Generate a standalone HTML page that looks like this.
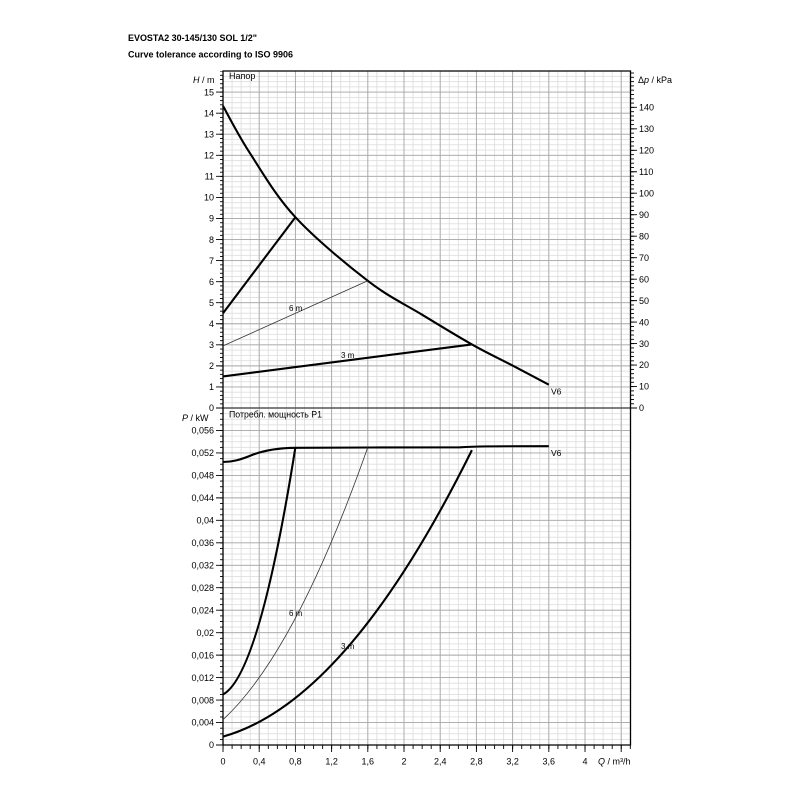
<!DOCTYPE html>
<html><head><meta charset="utf-8"><style>
html,body{margin:0;padding:0;background:#fff;}
svg{display:block;}
text{font-family:"Liberation Sans",Arial,sans-serif;fill:#000;}
</style></head><body>
<svg width="800" height="800" viewBox="0 0 800 800" xmlns="http://www.w3.org/2000/svg">
<defs>
<pattern id="gv" patternUnits="userSpaceOnUse" x="222.6" y="0" width="9.05" height="800"><rect x="0" y="0" width="0.8" height="800" fill="#dcdcdc"/></pattern>
<pattern id="ghu" patternUnits="userSpaceOnUse" x="0" y="407.6" width="800" height="5.265"><rect x="0" y="0" width="800" height="0.8" fill="#dcdcdc"/></pattern>
<pattern id="ghl" patternUnits="userSpaceOnUse" x="0" y="744.6" width="800" height="5.6167"><rect x="0" y="0" width="800" height="0.8" fill="#dcdcdc"/></pattern>
<pattern id="tlu" patternUnits="userSpaceOnUse" x="0" y="407.6" width="800" height="4.212"><rect x="0" y="0" width="800" height="0.9" fill="#000"/></pattern>
<pattern id="tll" patternUnits="userSpaceOnUse" x="0" y="744.6" width="800" height="5.6167"><rect x="0" y="0" width="800" height="0.9" fill="#000"/></pattern>
<pattern id="tr" patternUnits="userSpaceOnUse" x="0" y="407.6" width="800" height="4.2954"><rect x="0" y="0" width="800" height="0.9" fill="#000"/></pattern>
<pattern id="tb" patternUnits="userSpaceOnUse" x="222.6" y="0" width="9.05" height="800"><rect x="0" y="0" width="0.9" height="800" fill="#000"/></pattern>
</defs>
<rect width="800" height="800" fill="#fff"/>

<!-- titles -->
<text x="128" y="41" font-size="9" font-weight="bold" textLength="129" lengthAdjust="spacingAndGlyphs">EVOSTA2 30-145/130 SOL 1/2"</text>
<text x="128" y="57.5" font-size="9" font-weight="bold" textLength="165" lengthAdjust="spacingAndGlyphs">Curve tolerance according to ISO 9906</text>

<!-- minor grids -->
<rect x="223" y="71" width="407.5" height="674" fill="url(#gv)"/>
<rect x="223" y="71" width="407.5" height="337" fill="url(#ghu)"/>
<rect x="223" y="408" width="407.5" height="337" fill="url(#ghl)"/>

<!-- major grids -->
<path fill="none" stroke="#a8a8a8" stroke-width="0.9" d="
M259.2 71V745M295.4 71V745M331.6 71V745M367.8 71V745M404 71V745M440.2 71V745M476.4 71V745M512.6 71V745M548.8 71V745M585 71V745M621.2 71V745
M223 386.94H630.5M223 365.88H630.5M223 344.82H630.5M223 323.76H630.5M223 302.7H630.5M223 281.64H630.5M223 260.58H630.5M223 239.52H630.5M223 218.46H630.5M223 197.4H630.5M223 176.34H630.5M223 155.28H630.5M223 134.22H630.5M223 113.16H630.5M223 92.1H630.5
M223 722.53H630.5M223 700.07H630.5M223 677.6H630.5M223 655.13H630.5M223 632.67H630.5M223 610.2H630.5M223 587.73H630.5M223 565.27H630.5M223 542.8H630.5M223 520.33H630.5M223 497.87H630.5M223 475.4H630.5M223 452.93H630.5M223 430.47H630.5"/>

<!-- zero line -->
<line x1="223" y1="408" x2="630.5" y2="408" stroke="#555" stroke-width="1.4"/>

<!-- frame -->
<path fill="none" stroke="#000" stroke-width="1.3" d="M223 71H630.5V745H223Z"/>

<!-- ticks -->
<rect x="220" y="71" width="3" height="337" fill="url(#tlu)"/>
<rect x="220" y="408" width="3" height="337" fill="url(#tll)"/>
<rect x="631" y="71" width="3" height="337" fill="url(#tr)"/>
<rect x="223" y="745" width="408" height="4" fill="url(#tb)"/>
<path fill="none" stroke="#000" stroke-width="0.9" d="
M216 408H223M216 386.94H223M216 365.88H223M216 344.82H223M216 323.76H223M216 302.7H223M216 281.64H223M216 260.58H223M216 239.52H223M216 218.46H223M216 197.4H223M216 176.34H223M216 155.28H223M216 134.22H223M216 113.16H223M216 92.1H223
M216 745H223M216 722.53H223M216 700.07H223M216 677.6H223M216 655.13H223M216 632.67H223M216 610.2H223M216 587.73H223M216 565.27H223M216 542.8H223M216 520.33H223M216 497.87H223M216 475.4H223M216 452.93H223M216 430.47H223
M631 408H637M631 386.52H637M631 365.05H637M631 343.57H637M631 322.09H637M631 300.62H637M631 279.14H637M631 257.66H637M631 236.18H637M631 214.71H637M631 193.23H637M631 171.75H637M631 150.28H637M631 128.8H637M631 107.32H637
M223 745V752M259.2 745V752M295.4 745V752M331.6 745V752M367.8 745V752M404 745V752M440.2 745V752M476.4 745V752M512.6 745V752M548.8 745V752M585 745V752M621.2 745V752"/>

<!-- left labels upper -->
<g font-size="9" text-anchor="end">
<text x="214" y="411">0</text>
<text x="214" y="390">1</text>
<text x="214" y="369">2</text>
<text x="214" y="348">3</text>
<text x="214" y="327">4</text>
<text x="214" y="306">5</text>
<text x="214" y="285">6</text>
<text x="214" y="264">7</text>
<text x="214" y="242.8">8</text>
<text x="214" y="221.7">9</text>
<text x="214" y="200.6">10</text>
<text x="214" y="179.6">11</text>
<text x="214" y="158.5">12</text>
<text x="214" y="137.4">13</text>
<text x="214" y="116.4">14</text>
<text x="214" y="95.3">15</text>
</g>
<!-- left labels lower -->
<g font-size="9" text-anchor="end">
<text x="214" y="748.2">0</text>
<text x="214" y="725.7">0,004</text>
<text x="214" y="703.3">0,008</text>
<text x="214" y="680.8">0,012</text>
<text x="214" y="658.3">0,016</text>
<text x="214" y="635.9">0,02</text>
<text x="214" y="613.4">0,024</text>
<text x="214" y="590.9">0,028</text>
<text x="214" y="568.5">0,032</text>
<text x="214" y="546">0,036</text>
<text x="214" y="523.5">0,04</text>
<text x="214" y="501.1">0,044</text>
<text x="214" y="478.6">0,048</text>
<text x="214" y="456.1">0,052</text>
<text x="214" y="433.7">0,056</text>
</g>
<!-- right labels -->
<g font-size="9">
<text x="639" y="411.2">0</text>
<text x="639" y="389.7">10</text>
<text x="639" y="368.2">20</text>
<text x="639" y="346.8">30</text>
<text x="639" y="325.3">40</text>
<text x="639" y="303.8">50</text>
<text x="639" y="282.3">60</text>
<text x="639" y="260.9">70</text>
<text x="639" y="239.4">80</text>
<text x="639" y="217.9">90</text>
<text x="639" y="196.4">100</text>
<text x="639" y="175">110</text>
<text x="639" y="153.5">120</text>
<text x="639" y="132">130</text>
<text x="639" y="110.5">140</text>
</g>
<!-- bottom labels -->
<g font-size="9" text-anchor="middle">
<text x="223" y="764.5">0</text>
<text x="259.2" y="764.5">0,4</text>
<text x="295.4" y="764.5">0,8</text>
<text x="331.6" y="764.5">1,2</text>
<text x="367.8" y="764.5">1,6</text>
<text x="404" y="764.5">2</text>
<text x="440.2" y="764.5">2,4</text>
<text x="476.4" y="764.5">2,8</text>
<text x="512.6" y="764.5">3,2</text>
<text x="548.8" y="764.5">3,6</text>
<text x="585" y="764.5">4</text>
</g>

<!-- axis titles -->
<text x="193" y="83" font-size="9"><tspan font-style="italic">H</tspan> / m</text>
<text x="229" y="79" font-size="9">Напор</text>
<text x="638" y="83" font-size="9">Δ<tspan font-style="italic">p</tspan> / kPa</text>
<text x="182" y="421" font-size="9"><tspan font-style="italic">P</tspan>  / kW</text>
<text x="229" y="417.5" font-size="9" textLength="93" lengthAdjust="spacingAndGlyphs">Потребл. мощность P1</text>
<text x="598" y="764.5" font-size="9"><tspan font-style="italic">Q</tspan> / m³/h</text>

<!-- upper curves -->
<path fill="none" stroke="#000" stroke-width="2.1" stroke-linejoin="round" d="M223 105.9C227.5 113.9 238.1 135.1 250.2 153.6C262.3 172.2 275.8 196 295.4 217.2C315 238.4 346.7 264.6 367.8 280.8C388.9 297.1 404.8 304.1 422.1 314.7C439.5 325.3 456.8 335.9 471.9 344.4C487 352.9 499.8 358.9 512.6 365.6C525.4 372.3 542.8 381.5 548.8 384.7"/>
<line x1="223" y1="313.2" x2="295.4" y2="217.2" stroke="#000" stroke-width="2.1"/>
<line x1="223" y1="345.9" x2="367.8" y2="280.8" stroke="#333" stroke-width="0.8"/>
<line x1="223" y1="376.4" x2="471.9" y2="344.4" stroke="#000" stroke-width="2.1"/>
<text x="289" y="311" font-size="8">6 m</text>
<text x="341" y="358" font-size="8">3 m</text>
<text x="551" y="394.5" font-size="8.5">V6</text>

<!-- lower curves -->
<path fill="none" stroke="#000" stroke-width="2.1" d="M223 462C232 462 240 460 252 455C266 449.5 280 448 295.4 447.8L370 447.5L460 447.3C475 446.3 490 446.2 548.8 446.2"/>
<path fill="none" stroke="#000" stroke-width="2.1" d="M223 694.5Q259.2 675.1 295.4 447.3"/>
<path fill="none" stroke="#333" stroke-width="0.8" d="M223 719.7Q295.4 652.8 367.8 447.3"/>
<path fill="none" stroke="#000" stroke-width="2.1" d="M223 736.6Q347.4 701.8 471.9 450.1"/>
<text x="289" y="616" font-size="8">6 m</text>
<text x="341" y="649" font-size="8">3 m</text>
<text x="551" y="456" font-size="8.5">V6</text>
</svg>
</body></html>
